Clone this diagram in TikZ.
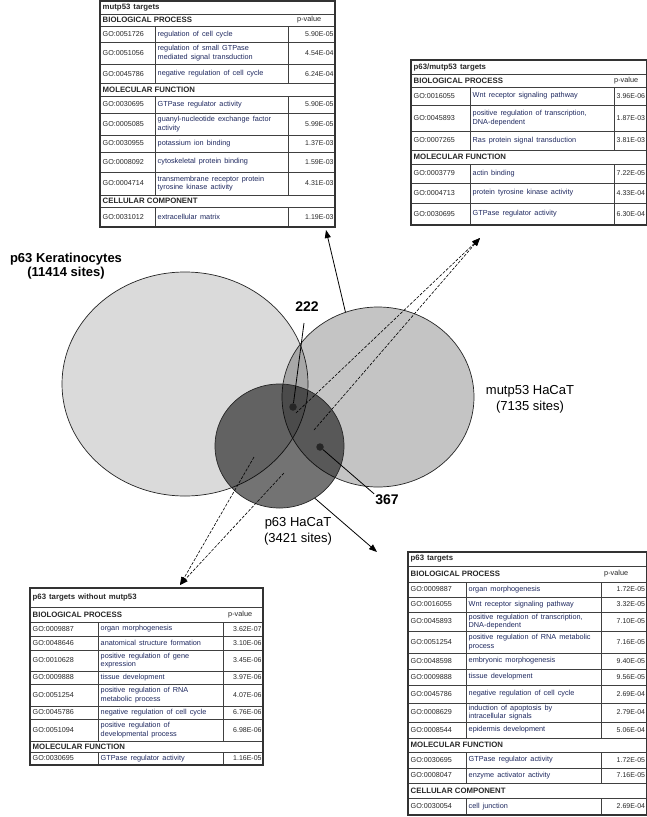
\documentclass[tikz,border=0pt]{standalone}
\usepackage{fontspec}
\setmainfont{Liberation Sans}
\usetikzlibrary{shapes.geometric,arrows.meta}
\definecolor{navy}{RGB}{30,40,95}
\definecolor{kergray}{RGB}{218,218,218}
\definecolor{ink}{RGB}{40,40,40}

\newcommand{\GOrows}[6]{%
  \foreach \ya/\yb/\go/\ds/\pv [count=\i] in {#6}{
    \draw[tblrule] (#2,\ya) -- (#5,\ya);
    \draw[tblrule] (#3,\ya) -- (#3,\yb) (#4,\ya) -- (#4,\yb);
    \node[gocell, xshift=2.5pt] (#1go\i) at (#2,{(\ya+\yb)/2}) {\go};
    \node[dscell, xshift=2.5pt] (#1ds\i) at (#3,{(\ya+\yb)/2}) {\ds};
    \node[pvcell, xshift=-1.2pt] (#1pv\i) at (#5,{(\ya+\yb)/2}) {\pv};
  }}
\newcommand{\GOheads}[4]{%
  \foreach \ya/\yb/\t [count=\i] in {#4}{
    \draw[tblrule] (#2,\ya) -- (#3,\ya);
    \node[headcell, xshift=2.5pt] (#1hd\i) at (#2,{(\ya+\yb)/2}) {\t};
  }}

\begin{document}
\begin{tikzpicture}[x=1pt,y=-1pt,
  tblrule/.style={draw=black!75, line width=0.7pt},
  tblframe/.style={draw=black!80, line width=1.3pt},
  gocell/.style={anchor=west, inner sep=0pt, font={\fontsize{7.2}{8}\selectfont}, text=ink},
  dscell/.style={anchor=west, inner sep=0pt, align=left, text=navy,
    font={\fontsize{7.3}{8.4}\selectfont\spaceskip=3.1pt plus 0.5pt\relax}},
  pvcell/.style={anchor=east, inner sep=0pt, font={\fontsize{7}{8}\selectfont}, text=ink},
  headcell/.style={anchor=west, inner sep=0pt, font={\bfseries\fontsize{7.8}{8}\selectfont}, text=ink},
  titlecell/.style={anchor=west, inner sep=0pt, font={\bfseries\fontsize{7.8}{8}\selectfont\spaceskip=3pt\relax}, text=ink},
  pvhead/.style={anchor=west, inner sep=0pt, font={\fontsize{7.3}{8}\selectfont}, text=ink},
  venn/.style={ellipse, draw=black!85, line width=0.7pt, inner sep=0pt, outer sep=0pt},
  dotnode/.style={circle, fill=black!85, inner sep=0pt, minimum size=7.5pt},
  lbl/.style={align=center, inner sep=1pt, font={\fontsize{13}{16}\selectfont}},
  lblb/.style={align=center, inner sep=1pt, font={\bfseries\fontsize{13}{14.5}\selectfont}},
  num/.style={inner sep=1pt, font={\bfseries\fontsize{14}{16}\selectfont}},
  solidarrow/.style={draw=black, line width=0.8pt, -{Triangle[length=8pt,width=6pt]}},
  dasharrow/.style={draw=black, line width=0.6pt, dash pattern=on 3pt off 1.5pt, -{Triangle[length=8pt,width=6pt]}},
  plainline/.style={draw=black, line width=0.8pt}
]
\fill[white] (0,0) rectangle (647,817);
\useasboundingbox (0,0) rectangle (647,817);

% ---------------- Venn diagram ----------------
\node[venn, fill=kergray, minimum width=246pt, minimum height=224pt] (ker) at (185,384) {};
\node[venn, fill=black, fill opacity=0.23, minimum width=192pt, minimum height=180pt] (mut) at (378,397) {};
\node[venn, fill=black, fill opacity=0.55, minimum width=129pt, minimum height=124pt] (hac) at (279.5,446) {};

\node[lblb] (kerlbl) at (66,266) {p63 Keratinocytes\\(11414 sites)};
\node[lbl] (mutlbl) at (530,399) {mutp53 HaCaT\\(7135 sites)};
\node[lbl] (haclbl) at (298,531) {p63 HaCaT\\(3421 sites)};
\node[num] (n222) at (307,307) {222};
\node[num] (n367) at (387,500) {367};

\node[dotnode] (d1) at (293,407) {};
\node[dotnode] (d2) at (320,447) {};

\coordinate (c222) at (304,323);
\draw[plainline] (c222) -- (d1);
\draw[plainline] (d2) -- (n367.north west);

\coordinate (tipA) at (326,230);
\coordinate (tipB) at (480,238);
\coordinate (tipC) at (180,585);
\coordinate (tipD) at (377,552);
\coordinate (pa) at (296,413);
\coordinate (pb) at (314,430);
\coordinate (pc) at (254,457);
\coordinate (pd) at (284,473);

\draw[solidarrow] (mut.111) -- (tipA);
\draw[solidarrow] (hac.-56) -- (tipD);
\draw[dasharrow] (pa) -- (tipB);
\draw[dasharrow] (pb) -- (tipB);
\draw[dasharrow] (pc) -- (tipC);
\draw[dasharrow] (pd) -- (tipC);

% ---------------- Table A: mutp53 targets ----------------
\node[titlecell, xshift=2.5pt] (Atitle) at (100,7.5) {mutp53 targets};
\GOheads{A}{100}{335}{14/26/BIOLOGICAL PROCESS, 83.5/96/MOLECULAR FUNCTION, 195/207/CELLULAR COMPONENT}
\node[pvhead] (Apvh) at (297,20) {p-value};
\GOrows{A}{100}{155}{288}{335}{%
  26/42.5/GO:0051726/{regulation of cell cycle}/5.90E-05,
  42.5/64/GO:0051056/{regulation of small GTPase\\mediated signal transduction}/4.54E-04,
  64/83.5/GO:0045786/{negative regulation of cell cycle}/6.24E-04,
  96/113/GO:0030695/{GTPase regulator activity}/5.90E-05,
  113/135/GO:0005085/{guanyl-nucleotide exchange factor\\activity}/5.99E-05,
  135/152/GO:0030955/{potassium ion binding}/1.37E-03,
  152/172/GO:0008092/{cytoskeletal protein binding}/1.59E-03,
  172/195/GO:0004714/{transmembrane receptor protein\\tyrosine kinase activity}/4.31E-03,
  207/227/GO:0031012/{extracellular matrix}/1.19E-03}
\draw[tblframe] (100,1) rectangle (335,227);

% ---------------- Table B: p63/mutp53 targets ----------------
\node[titlecell, xshift=2.5pt] (Btitle) at (411,67) {p63/mutp53 targets};
\GOheads{B}{411}{646.5}{74/87/BIOLOGICAL PROCESS, 150/164/MOLECULAR FUNCTION}
\node[pvhead] (Bpvh) at (614,80.5) {p-value};
\GOrows{B}{411}{470}{614}{646.5}{%
  87/105/GO:0016055/{Wnt receptor signaling pathway}/3.96E-06,
  105/131/GO:0045893/{positive regulation of transcription,\\DNA-dependent}/1.87E-03,
  131/150/GO:0007265/{Ras protein signal transduction}/3.81E-03,
  164/183/GO:0003779/{actin binding}/7.22E-05,
  183/203/GO:0004713/{protein tyrosine kinase activity}/4.33E-04,
  203/225/GO:0030695/{GTPase regulator activity}/6.30E-04}
\draw[tblframe] (411,60) rectangle (646.5,225);

% ---------------- Table C: p63 targets without mutp53 ----------------
\node[titlecell, xshift=2.5pt] (Ctitle) at (30,597.5) {p63 targets without mutp53};
\GOheads{C}{30}{263}{607/622/BIOLOGICAL PROCESS, 741/752/MOLECULAR FUNCTION}
\node[pvhead] (Cpvh) at (228,614.5) {p-value};
\GOrows{C}{30}{98}{223}{263}{%
  622/636/GO:0009887/{organ morphogenesis}/3.62E-07,
  636/650/GO:0048646/{anatomical structure formation}/3.10E-06,
  650/671/GO:0010628/{positive regulation of gene\\expression}/3.45E-06,
  671/684/GO:0009888/{tissue development}/3.97E-06,
  684/706/GO:0051254/{positive regulation of RNA\\metabolic process}/4.07E-06,
  706/719/GO:0045786/{negative regulation of cell cycle}/6.76E-06,
  719/741/GO:0051094/{positive regulation of\\developmental process}/6.98E-06,
  752/765/GO:0030695/{GTPase regulator activity}/1.16E-05}
\draw[tblframe] (30,588) rectangle (263,765);

% ---------------- Table D: p63 targets ----------------
\node[titlecell, xshift=2.5pt] (Dtitle) at (408,559) {p63 targets};
\GOheads{D}{408}{646.5}{566/582/BIOLOGICAL PROCESS, 738/752/MOLECULAR FUNCTION, 783/798/CELLULAR COMPONENT}
\node[pvhead] (Dpvh) at (604,574) {p-value};
\GOrows{D}{408}{466}{601}{646.5}{%
  582/597/GO:0009887/{organ morphogenesis}/1.72E-05,
  597/612/GO:0016055/{Wnt receptor signaling pathway}/3.32E-05,
  612/631/GO:0045893/{positive regulation of transcription,\\DNA-dependent}/7.10E-05,
  631/653/GO:0051254/{positive regulation of RNA metabolic\\process}/7.16E-05,
  653/669/GO:0048598/{embryonic morphogenesis}/9.40E-05,
  669/685/GO:0009888/{tissue development}/9.56E-05,
  685/703/GO:0045786/{negative regulation of cell cycle}/2.69E-04,
  703/722/GO:0008629/{induction of apoptosis by\\intracellular signals}/2.79E-04,
  722/738/GO:0008544/{epidermis development}/5.06E-04,
  752/768/GO:0030695/{GTPase regulator activity}/1.72E-05,
  768/783/GO:0008047/{enzyme activator activity}/7.16E-05,
  798/815/GO:0030054/{cell junction}/2.69E-04}
\draw[tblframe] (408,552) rectangle (646.5,815);
\end{tikzpicture}
\end{document}
